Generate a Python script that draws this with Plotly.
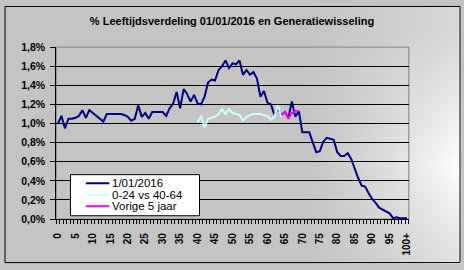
import base64, struct, zlib
import plotly.graph_objects as go

W, H = 464, 270

ages = list(range(0, 101))
blue_vals = [1.00, 1.08, 0.95, 1.05, 1.05, 1.06, 1.08, 1.14, 1.06, 1.14,
             1.11, 1.08, 1.05, 1.02, 1.10, 1.10, 1.10, 1.10, 1.10, 1.09,
             1.07, 1.03, 1.05, 1.19, 1.07, 1.11, 1.05, 1.12, 1.12, 1.12,
             1.12, 1.08, 1.16, 1.21, 1.33, 1.16, 1.36, 1.31, 1.23, 1.30,
             1.21, 1.20, 1.28, 1.43, 1.46, 1.45, 1.56, 1.60, 1.66, 1.58,
             1.63, 1.62, 1.66, 1.51, 1.56, 1.51, 1.54, 1.47, 1.28, 1.34,
             1.22, 1.20, 1.09, 1.16, 1.09, 1.12, 1.06, 1.23, 1.07, 1.13,
             0.91, 0.91, 0.91, 0.80, 0.70, 0.71, 0.81, 0.85, 0.84, 0.83,
             0.70, 0.66, 0.66, 0.69, 0.63, 0.52, 0.43, 0.35, 0.34, 0.27,
             0.21, 0.17, 0.12, 0.10, 0.08, 0.06, 0.01, 0.02, 0.01, 0.01,
             0.01]
cyan_ages = list(range(40, 65))
cyan_vals = [1.01, 1.08, 0.96, 1.05, 1.06, 1.07, 1.10, 1.15, 1.10, 1.15,
             1.11, 1.10, 1.09, 1.03, 1.07, 1.09, 1.10, 1.10, 1.10, 1.09,
             1.08, 1.04, 1.07, 1.19, 1.07]
mag_ages = list(range(64, 70))
mag_vals = [1.09, 1.12, 1.05, 1.11, 1.13, 1.13]

series_names = ["1/01/2016", "0-24 vs 40-64", "Vorige 5 jaar"]
series_colors = ["#000080", "#CCFFFF", "#FF00FF"]

y_tickvals = [0, 0.2, 0.4, 0.6, 0.8, 1.0, 1.2, 1.4, 1.6, 1.8]
y_ticktext = ["0,0%", "0,2%", "0,4%", "0,6%", "0,8%", "1,0%", "1,2%", "1,4%", "1,6%", "1,8%"]
x_tickvals = list(range(0, 101, 5))
x_ticktext = [str(v) for v in range(0, 100, 5)] + ["100+"]

title_text = "% Leeftijdsverdeling 01/01/2016 en Generatiewisseling"

# ---- background gradient image (grey -> white towards right) ----
def make_png(w, h):
    rows = []
    for j in range(h):
        row = bytearray([0])
        for i in range(w):
            fx = max(0.0, (i - 300) / (w - 300))
            fy = 1.0 - abs(j - 165) / 140.0
            f = max(0.0, min(1.0, fx * (0.45 + 0.55 * max(0.0, fy))))
            f = f ** 1.3
            c = int(round(196 + (255 - 196) * f))
            row += bytes((c, c, c))
        rows.append(bytes(row))
    raw = b"".join(rows)
    def chunk(t, d):
        c = struct.pack(">I", len(d)) + t + d
        return c + struct.pack(">I", zlib.crc32(t + d) & 0xffffffff)
    png = b"\x89PNG\r\n\x1a\n"
    png += chunk(b"IHDR", struct.pack(">IIBBBBB", w, h, 8, 2, 0, 0, 0))
    png += chunk(b"IDAT", zlib.compress(raw, 9))
    png += chunk(b"IEND", b"")
    return "data:image/png;base64," + base64.b64encode(png).decode()

bg = make_png(W, H)

FONT = "Arial, 'Liberation Sans', sans-serif"

fig = go.Figure()
fig.add_trace(go.Scatter(x=ages, y=blue_vals, mode="lines", name=series_names[0],
                         line=dict(color=series_colors[0], width=2)))
fig.add_trace(go.Scatter(x=cyan_ages, y=cyan_vals, mode="lines", name=series_names[1],
                         line=dict(color=series_colors[1], width=2)))
fig.add_trace(go.Scatter(x=mag_ages, y=mag_vals, mode="lines", name=series_names[2],
                         line=dict(color=series_colors[2], width=2)))

px = lambda v: v / W
py = lambda v: 1 - v / H

PL, PR, PT, PB = 53, 411, 43, 223

fig.update_layout(
    width=W, height=H,
    margin=dict(l=0, r=0, t=0, b=0),
    paper_bgcolor="#C4C4C4",
    plot_bgcolor="#C0C0C0",
    showlegend=False,
    font=dict(family=FONT, color="black"),
    title=dict(text=title_text, x=0.5, xanchor="center", y=py(21), yanchor="middle",
               font=dict(family=FONT, size=11, weight="bold", color="black")),
    images=[dict(source=bg, xref="paper", yref="paper", x=0, y=1, sizex=1, sizey=1,
                 sizing="stretch", layer="below")],
    xaxis=dict(domain=[px(PL), px(PR)], range=[-0.5, 100.5], showgrid=False,
               zeroline=False, showline=True, linecolor="black", linewidth=1,
               tickmode="array", tickvals=x_tickvals, ticktext=x_ticktext,
               tickangle=-90, ticks="", ticklabelstandoff=9,
               tickfont=dict(family=FONT, size=10, weight="bold", color="black"),
               minor=dict(ticks="outside", ticklen=4, tick0=0.5, dtick=1,
                          tickcolor="black", showgrid=False)),
    yaxis=dict(domain=[py(PB), py(PT)], range=[0, 1.8], showgrid=True,
               gridcolor="black", gridwidth=1, zeroline=False, showline=True,
               linecolor="black", linewidth=1, tickmode="array",
               tickvals=y_tickvals, ticktext=y_ticktext, ticks="outside",
               ticklen=5, tickcolor="black", ticklabelstandoff=3,
               tickfont=dict(family=FONT, size=10.5, weight="bold", color="black")),
)

shapes = []
# plot area border (top/right grey)
shapes.append(dict(type="rect", xref="paper", yref="paper", x0=px(PL), x1=px(PR),
                   y0=py(PB), y1=py(PT), line=dict(color="#808080", width=1),
                   fillcolor="rgba(0,0,0,0)", layer="below"))
# chart border
shapes.append(dict(type="rect", xref="paper", yref="paper", x0=px(1), x1=px(463),
                   y0=py(268.5), y1=py(0.5), line=dict(color="black", width=1),
                   fillcolor="rgba(0,0,0,0)"))
# legend box
LX0, LX1, LY0, LY1 = 67.5, 198.5, 176.5, 219.5
shapes.append(dict(type="rect", xref="paper", yref="paper", x0=px(LX0), x1=px(LX1),
                   y0=py(LY1), y1=py(LY0), line=dict(color="black", width=1),
                   fillcolor="white"))
rows_y = [185.5, 197.5, 209.5]
annotations = []
for name, col, ry in zip(series_names, series_colors, rows_y):
    shapes.append(dict(type="line", xref="paper", yref="paper", x0=px(83), x1=px(107),
                       y0=py(ry), y1=py(ry), line=dict(color=col, width=2)))
    annotations.append(dict(text=name, xref="paper", yref="paper", x=px(108), y=py(ry),
                            xanchor="left", yanchor="middle", showarrow=False,
                            font=dict(family=FONT, size=11.5, color="black")))
fig.update_layout(shapes=shapes, annotations=annotations)

fig.write_html("out.html")
